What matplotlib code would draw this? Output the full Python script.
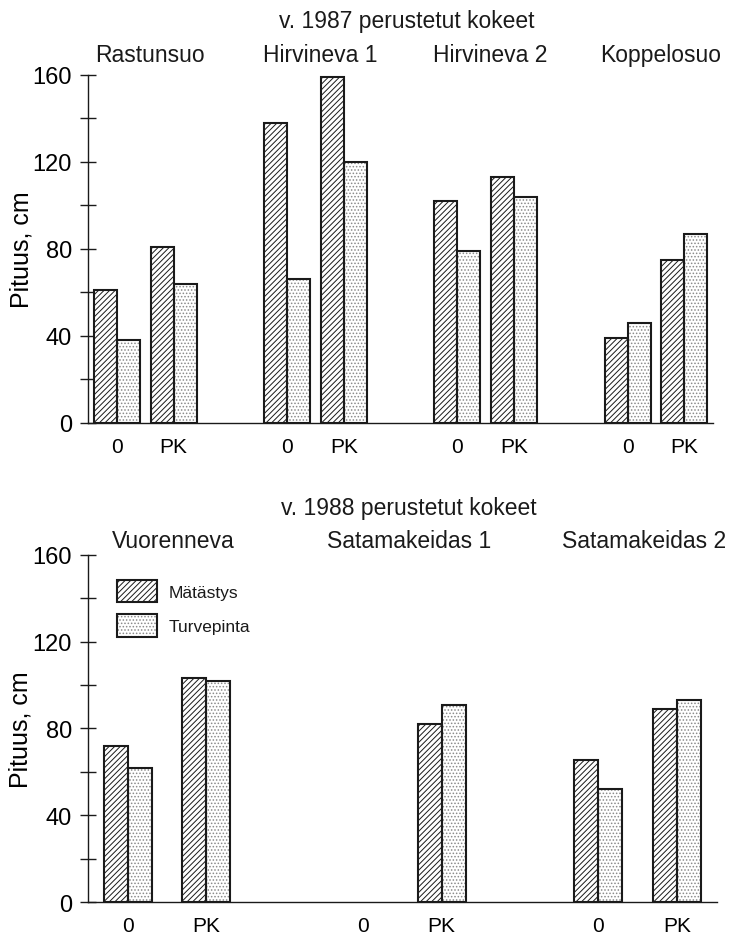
import numpy as np
import matplotlib.pyplot as plt

plt.rcParams['font.family'] = ['Liberation Sans', 'DejaVu Sans']
plt.rcParams['hatch.linewidth'] = 0.7
plt.rcParams['text.color'] = '#1a1a1a'

treatments = ['0', 'PK']

# 1987 experiments
sites_1987 = ['Rastunsuo', 'Hirvineva 1', 'Hirvineva 2', 'Koppelosuo']
matastys_1987 = [61, 81, 138, 159, 102, 113, 39, 75]
turvepinta_1987 = [38, 64, 66, 120, 79, 104, 46, 87]

# 1988 experiments (no unfertilised plot on Satamakeidas 1)
sites_1988 = ['Vuorenneva', 'Satamakeidas 1', 'Satamakeidas 2']
matastys_1988 = [72, 103, np.nan, 82, 65.5, 89]
turvepinta_1988 = [62, 102, np.nan, 91, 52, 93]

INK = '#1a1a1a'


def hatched_bars(ax, x, h, width, hatch, hatch_color):
    # fill + pattern first, then a plain black outline on top
    ok = ~np.isnan(h)
    fill = ax.bar(x[ok], h[ok], width, facecolor='white', edgecolor=hatch_color,
                  hatch=hatch, linewidth=0, zorder=3)
    edge = ax.bar(x[ok], h[ok], width, fill=False, edgecolor=INK,
                  linewidth=1.5, zorder=4)
    return fill, edge


def draw_panel(ax, sites, mat, turv, width, title):
    n = len(sites)
    x = np.array([i * 3 + j for i in range(n) for j in range(len(treatments))], dtype=float)
    h1 = hatched_bars(ax, x - width / 2, np.array(mat, dtype=float), width, '//////', INK)
    h2 = hatched_bars(ax, x + width / 2, np.array(turv, dtype=float), width, '.....', '#8a8a8a')

    ax.set_xlim(-0.51, n * 3 - 1.49)
    ax.set_ylim(0, 160)
    ax.set_xticks(x)
    ax.set_xticklabels(treatments * n, fontsize=15)
    ax.tick_params(axis='x', length=0, pad=10)
    ax.set_yticks([0, 40, 80, 120, 160])
    ax.set_yticks([20, 60, 100, 140], minor=True)
    ax.tick_params(axis='y', which='both', direction='inout', length=12, width=1,
                   labelsize=17, pad=5.5, color=INK)
    ax.spines['top'].set_visible(False)
    ax.spines['right'].set_visible(False)
    for s in ('left', 'bottom'):
        ax.spines[s].set_linewidth(1)
        ax.spines[s].set_color(INK)
    ax.set_ylabel('Pituus, cm', fontsize=18)
    ax.yaxis.set_label_coords(-0.088, 0.5)

    ax.text(0.51, title[1], title[0], transform=ax.transAxes, ha='center',
            va='baseline', fontsize=16.5)
    for i, name in enumerate(sites):
        ax.text(i * 3 + 0.58, title[2], name, transform=ax.get_xaxis_transform(),
                ha='center', va='baseline', fontsize=16.5)
    return h1, h2


fig = plt.figure(figsize=(7.4, 9.37), dpi=100)
ax1 = fig.add_axes([0.119, 0.5475, 0.845, 0.3714])
ax2 = fig.add_axes([0.119, 0.036, 0.8496, 0.371])

draw_panel(ax1, sites_1987, matastys_1987, turvepinta_1987, 0.405,
           ('v. 1987 perustetut kokeet', 1.138, 1.04))
h1, h2 = draw_panel(ax2, sites_1988, matastys_1988, turvepinta_1988, 0.306,
                    ('v. 1988 perustetut kokeet', 1.117, 1.022))

ax2.legend([h1, h2], ['Mätästys', 'Turvepinta'], loc='upper left',
           bbox_to_anchor=(0.046, 0.927), frameon=False, fontsize=12.5,
           handlelength=2.3, handleheight=1.6, handletextpad=0.7,
           labelspacing=0.7, borderpad=0, borderaxespad=0)

fig.savefig('out.png', dpi=100)
